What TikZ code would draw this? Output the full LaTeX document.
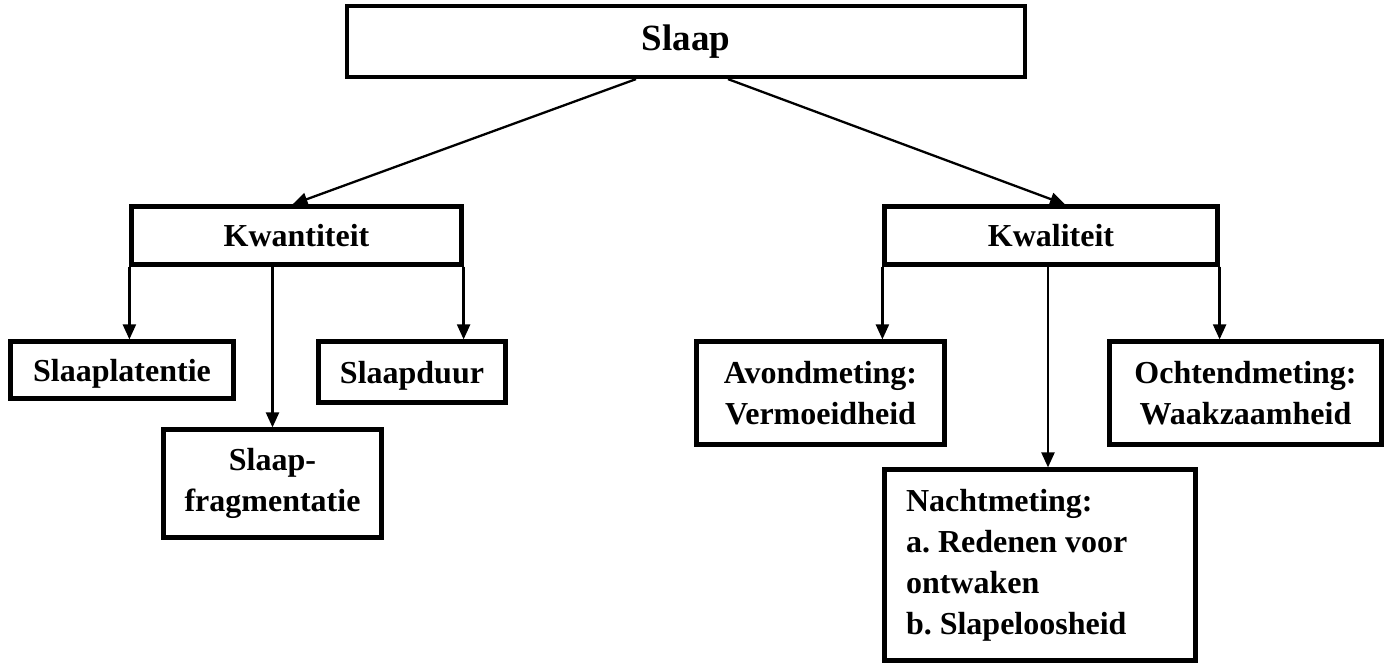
\documentclass[tikz,border=0pt]{standalone}
\usepackage{fontspec}
\setmainfont{Liberation Serif}
\usetikzlibrary{arrows.meta}
\frenchspacing
\tikzset{
  box/.style={draw=black, line width=4.2pt, rectangle, inner sep=0pt, align=center,
    font=\fontsize{32}{41}\selectfont\bfseries},
  arr/.style={draw=black, line width=2.3pt, -{Triangle[length=15pt,width=13pt]}}
}
\begin{document}
\begin{tikzpicture}[x=1pt,y=-1pt]
\useasboundingbox (0,0) rectangle (1391,664);
\node[box, minimum width=678pt, minimum height=71pt, font=\fontsize{37}{44}\selectfont\bfseries] (slaap) at (686,41.5) {Slaap};
\node[box, minimum width=330pt, minimum height=58pt] (kwan) at (296.5,235.5) {Kwantiteit};
\node[box, minimum width=333pt, minimum height=58pt] (kwal) at (1051,235.5) {Kwaliteit};
\node[box, minimum width=223pt, minimum height=57pt, text depth=0pt] (lat) at (122,370) {Slaaplatentie};
\node[box, minimum width=187pt, minimum height=61pt, text depth=0pt] (duur) at (412,372) {Slaapduur};
\node[box, minimum width=218pt, minimum height=108pt] (frag) at (272.5,483.5) {Slaap-\\fragmentatie};
\node[box, minimum width=248pt, minimum height=103pt] (avond) at (820.5,393) {Avondmeting:\\Vermoeidheid};
\node[box, minimum width=272pt, minimum height=103pt] (ochtend) at (1245.5,393) {Ochtendmeting:\\Waakzaamheid};
\node[box, minimum width=311pt, minimum height=191pt, text width=268pt, inner xsep=21.5pt, align=flush left] (nacht) at (1040,565) {Nachtmeting:\\a. Redenen voor\\ontwaken\\b. Slapeloosheid};
\draw[arr] ([xshift=-50pt]slaap.south) -- ([xshift=-4pt]kwan.north);
\draw[arr] ([xshift=42pt]slaap.south) -- ([xshift=14pt]kwal.north);
\draw[arr] (kwan.south west) -- (kwan.south west |- lat.north);
\draw[arr] (frag.north |- kwan.south) -- (frag.north);
\draw[arr] (kwan.south east) -- (kwan.south east |- duur.north);
\draw[arr] (kwal.south west) -- (kwal.south west |- avond.north);
\draw[arr] ([xshift=-3pt]kwal.south) -- ([xshift=-3pt]kwal.south |- nacht.north);
\draw[arr] (kwal.south east) -- (kwal.south east |- ochtend.north);
\end{tikzpicture}
\end{document}
